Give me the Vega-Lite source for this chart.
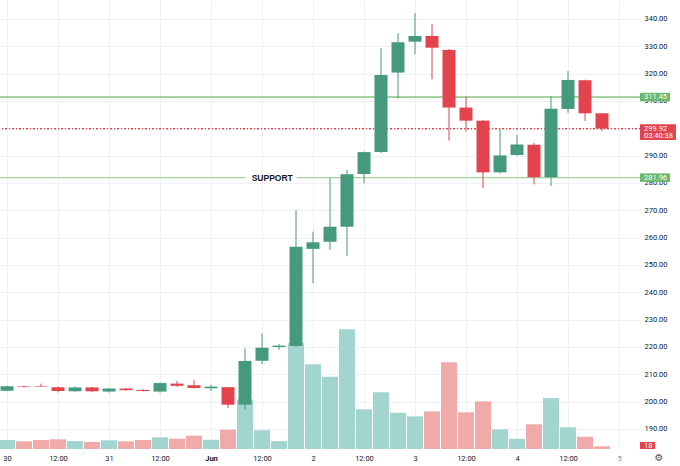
{
  "$schema": "https://vega.github.io/schema/vega-lite/v6.json",
  "width": 640,
  "height": 449,
  "autosize": {"type": "none"},
  "padding": {"left": 0, "top": 0, "right": 40, "bottom": 17},
  "background": "white",
  "config": {
    "view": {"stroke": null},
    "scale": {"continuousPadding": 0},
    "axis": {"domain": false, "ticks": false, "labelFont": "Roboto", "labelFontSize": 7.5, "labelColor": "#131722", "gridColor": "#eff0f3", "gridWidth": 1, "labelOverlap": false},
    "text": {"font": "Roboto"}
  },
  "datasets": {
    "candles": [
      {"time": "2024-05-30T00:00:00Z", "open": 204.0, "high": 205.8, "low": 203.8, "close": 205.6, "volume": 60},
      {"time": "2024-05-30T04:00:00Z", "open": 205.6, "high": 205.8, "low": 205.1, "close": 205.4, "volume": 51},
      {"time": "2024-05-30T08:00:00Z", "open": 205.7, "high": 206.6, "low": 205.4, "close": 205.5, "volume": 60},
      {"time": "2024-05-30T12:00:00Z", "open": 205.3, "high": 205.5, "low": 203.4, "close": 203.9, "volume": 65},
      {"time": "2024-05-30T16:00:00Z", "open": 203.8, "high": 205.5, "low": 203.6, "close": 205.2, "volume": 53},
      {"time": "2024-05-30T20:00:00Z", "open": 205.2, "high": 205.4, "low": 203.5, "close": 203.8, "volume": 47},
      {"time": "2024-05-31T00:00:00Z", "open": 203.7, "high": 205.0, "low": 203.3, "close": 204.8, "volume": 58},
      {"time": "2024-05-31T04:00:00Z", "open": 204.8, "high": 205.0, "low": 204.0, "close": 204.2, "volume": 51},
      {"time": "2024-05-31T08:00:00Z", "open": 204.3, "high": 204.6, "low": 203.7, "close": 203.9, "volume": 60},
      {"time": "2024-05-31T12:00:00Z", "open": 203.7, "high": 207.0, "low": 203.3, "close": 206.8, "volume": 78},
      {"time": "2024-05-31T16:00:00Z", "open": 206.6, "high": 207.5, "low": 205.4, "close": 205.8, "volume": 69},
      {"time": "2024-05-31T20:00:00Z", "open": 206.0, "high": 207.9, "low": 204.8, "close": 205.0, "volume": 89},
      {"time": "2024-06-01T00:00:00Z", "open": 204.9, "high": 206.2, "low": 203.9, "close": 205.5, "volume": 62},
      {"time": "2024-06-01T04:00:00Z", "open": 205.3, "high": 205.4, "low": 197.6, "close": 198.9, "volume": 129},
      {"time": "2024-06-01T08:00:00Z", "open": 198.9, "high": 219.5, "low": 197.0, "close": 214.9, "volume": 331},
      {"time": "2024-06-01T12:00:00Z", "open": 215.0, "high": 225.0, "low": 213.7, "close": 219.7, "volume": 125},
      {"time": "2024-06-01T16:00:00Z", "open": 220.0, "high": 221.1, "low": 219.0, "close": 220.5, "volume": 53},
      {"time": "2024-06-01T20:00:00Z", "open": 220.4, "high": 270.1, "low": 220.0, "close": 256.7, "volume": 707},
      {"time": "2024-06-02T00:00:00Z", "open": 255.9, "high": 262.2, "low": 243.3, "close": 258.3, "volume": 567},
      {"time": "2024-06-02T04:00:00Z", "open": 258.5, "high": 281.9, "low": 255.5, "close": 264.0, "volume": 482},
      {"time": "2024-06-02T08:00:00Z", "open": 264.0, "high": 284.8, "low": 253.4, "close": 283.2, "volume": 800},
      {"time": "2024-06-02T12:00:00Z", "open": 283.3, "high": 291.5, "low": 279.9, "close": 291.3, "volume": 265},
      {"time": "2024-06-02T16:00:00Z", "open": 291.3, "high": 329.3, "low": 291.0, "close": 319.5, "volume": 380},
      {"time": "2024-06-02T20:00:00Z", "open": 320.4, "high": 334.8, "low": 311.0, "close": 331.5, "volume": 242},
      {"time": "2024-06-03T00:00:00Z", "open": 331.7, "high": 342.1, "low": 327.1, "close": 333.8, "volume": 218},
      {"time": "2024-06-03T04:00:00Z", "open": 333.8, "high": 338.2, "low": 317.9, "close": 329.5, "volume": 251},
      {"time": "2024-06-03T08:00:00Z", "open": 328.7, "high": 329.0, "low": 295.5, "close": 307.6, "volume": 580},
      {"time": "2024-06-03T12:00:00Z", "open": 307.6, "high": 311.6, "low": 298.8, "close": 302.8, "volume": 245},
      {"time": "2024-06-03T16:00:00Z", "open": 302.8, "high": 303.0, "low": 278.1, "close": 283.9, "volume": 318},
      {"time": "2024-06-03T20:00:00Z", "open": 283.9, "high": 300.0, "low": 283.5, "close": 290.1, "volume": 131},
      {"time": "2024-06-04T00:00:00Z", "open": 290.2, "high": 297.6, "low": 290.0, "close": 294.1, "volume": 69},
      {"time": "2024-06-04T04:00:00Z", "open": 294.0, "high": 294.6, "low": 279.5, "close": 282.1, "volume": 165},
      {"time": "2024-06-04T08:00:00Z", "open": 282.1, "high": 311.8, "low": 278.9, "close": 307.2, "volume": 340},
      {"time": "2024-06-04T12:00:00Z", "open": 307.1, "high": 321.0, "low": 305.7, "close": 317.7, "volume": 145},
      {"time": "2024-06-04T16:00:00Z", "open": 317.6, "high": 317.8, "low": 302.7, "close": 305.5, "volume": 82},
      {"time": "2024-06-04T20:00:00Z", "open": 305.5, "high": 305.6, "low": 299.1, "close": 299.92, "volume": 18}
    ],
    "supportSegments": [
      {"price": 281.96, "from": "2024-05-29T22:21:11Z", "to": "2024-06-01T08:00:00Z"},
      {"price": 281.96, "from": "2024-06-01T20:10:00Z", "to": "2024-06-05T04:56:24Z"}
    ],
    "supportLabel": [
      {"label": "SUPPORT", "price": 281.96, "at": "2024-06-01T14:24:00Z"}
    ],
    "levelTags": [
      {"text": "311.45", "price": 311.45, "lo": 309.9, "hi": 313.0, "from": "2024-06-05T04:56:24Z", "to": "2024-06-05T12:00:00Z", "at": "2024-06-05T05:53:00Z"},
      {"text": "281.96", "price": 281.96, "lo": 280.41, "hi": 283.51, "from": "2024-06-05T04:56:24Z", "to": "2024-06-05T12:00:00Z", "at": "2024-06-05T05:53:00Z"}
    ],
    "priceTagBox": [
      {"lo": 295.73, "hi": 301.47, "from": "2024-06-05T04:56:24Z", "to": "2024-06-05T13:24:00Z"}
    ],
    "priceTagText": [
      {"text": "299.92", "price": 299.92, "at": "2024-06-05T05:53:00Z"},
      {"text": "03:40:38", "price": 297.2, "at": "2024-06-05T05:53:00Z"}
    ],
    "volumeTag": [
      {"text": "18", "lo": 0, "hi": 47, "mid": 21, "from": "2024-06-05T04:56:24Z", "to": "2024-06-05T08:30:00Z", "at": "2024-06-05T05:53:00Z"}
    ],
    "settingsIcon": [
      {"icon": "⚙", "at": "2024-06-05T09:25:00Z", "level": -60}
    ]
  },
  "layer": [
    {
      "layer": [
        {
          "data": {"name": "candles"},
          "mark": {"type": "bar", "width": 16},
          "encoding": {
            "x": {
              "field": "time", "type": "temporal", "title": null,
              "scale": {"type": "utc", "padding": 0, "domain": [{"year": 2024, "month": 5, "date": 29, "hours": 22, "minutes": 21, "seconds": 11, "utc": true}, {"year": 2024, "month": 6, "date": 5, "hours": 4, "minutes": 56, "seconds": 24, "utc": true}]},
              "axis": {
                "values": [
                  {"year": 2024, "month": 5, "date": 30, "hours": 0, "utc": true},
                  {"year": 2024, "month": 5, "date": 30, "hours": 12, "utc": true},
                  {"year": 2024, "month": 5, "date": 31, "hours": 0, "utc": true},
                  {"year": 2024, "month": 5, "date": 31, "hours": 12, "utc": true},
                  {"year": 2024, "month": 6, "date": 1, "hours": 0, "utc": true},
                  {"year": 2024, "month": 6, "date": 1, "hours": 12, "utc": true},
                  {"year": 2024, "month": 6, "date": 2, "hours": 0, "utc": true},
                  {"year": 2024, "month": 6, "date": 2, "hours": 12, "utc": true},
                  {"year": 2024, "month": 6, "date": 3, "hours": 0, "utc": true},
                  {"year": 2024, "month": 6, "date": 3, "hours": 12, "utc": true},
                  {"year": 2024, "month": 6, "date": 4, "hours": 0, "utc": true},
                  {"year": 2024, "month": 6, "date": 4, "hours": 12, "utc": true},
                  {"year": 2024, "month": 6, "date": 5, "hours": 0, "utc": true}
                ],
                "tickCount": 30,
                "labelExpr": "utchours(datum.value) == 12 ? '12:00' : (utcdate(datum.value) == 1 ? utcFormat(datum.value, '%b') : utcFormat(datum.value, '%-d'))",
                "labelFontWeight": {"condition": {"test": "utcdate(datum.value) == 1 && utchours(datum.value) == 0", "value": "bold"}, "value": "normal"},
                "labelColor": {"condition": {"test": "utcdate(datum.value) == 5", "value": "#8a8e99"}, "value": "#131722"},
                "grid": true,
                "labelPadding": 5,
                "labelFlush": false,
                "labelOverlap": false
              }
            },
            "y": {"field": "volume", "type": "quantitative", "scale": {"domain": [0, 3000], "nice": false, "zero": true, "padding": 0}, "axis": null},
            "color": {"condition": {"test": "datum.close >= datum.open", "value": "#a3d5d0"}, "value": "#efaaa9"}
          }
        },
        {
          "data": {"name": "volumeTag"},
          "mark": {"type": "rect", "color": "#e2434c"},
          "encoding": {
            "x": {"field": "from", "type": "temporal", "title": null},
            "x2": {"field": "to"},
            "y": {"field": "lo", "type": "quantitative", "scale": {"domain": [0, 3000], "nice": false, "zero": true, "padding": 0}, "axis": null},
            "y2": {"field": "hi"}
          }
        },
        {
          "data": {"name": "volumeTag"},
          "mark": {"type": "text", "color": "white", "fontSize": 7.5, "align": "left", "baseline": "middle"},
          "encoding": {
            "x": {"field": "at", "type": "temporal", "title": null},
            "y": {"field": "mid", "type": "quantitative", "scale": {"domain": [0, 3000], "nice": false, "zero": true, "padding": 0}, "axis": null},
            "text": {"field": "text"}
          }
        },
        {
          "data": {"name": "settingsIcon"},
          "mark": {"type": "text", "color": "#50535e", "fontSize": 10, "align": "center", "baseline": "middle", "font": "DejaVu Sans"},
          "encoding": {
            "x": {"field": "at", "type": "temporal", "title": null},
            "y": {"field": "level", "type": "quantitative", "scale": {"domain": [0, 3000], "nice": false, "zero": true, "padding": 0}, "axis": null},
            "text": {"field": "icon"}
          }
        }
      ]
    },
    {
      "layer": [
        {
          "data": {"name": "candles"},
          "mark": {"type": "rule", "color": "#a3d4a0", "strokeWidth": 1.1},
          "encoding": {
            "y": {
              "datum": 311.45, "type": "quantitative", "title": null,
              "scale": {"domain": [182.68, 346.95], "nice": false, "zero": false, "padding": 0},
              "axis": {"orient": "right", "values": [190, 200, 210, 220, 230, 240, 250, 260, 270, 280, 290, 300, 310, 320, 330, 340], "tickCount": 30, "format": ".2f", "grid": true, "labelPadding": 4, "labelBaseline": "middle", "labelOverlap": false}
            }
          }
        },
        {
          "data": {"name": "supportSegments"},
          "mark": {"type": "rule", "color": "#a3d4a0", "strokeWidth": 1.1},
          "encoding": {
            "x": {"field": "from", "type": "temporal", "title": null},
            "x2": {"field": "to"},
            "y": {"field": "price", "type": "quantitative", "title": null}
          }
        },
        {
          "data": {"name": "candles"},
          "mark": {"type": "rule", "color": "#e2434c", "strokeWidth": 0.8, "strokeDash": [1, 2.5], "opacity": 0.4},
          "encoding": {
            "y": {"datum": 299.92, "type": "quantitative", "title": null}
          }
        },
        {
          "data": {"name": "supportLabel"},
          "mark": {"type": "text", "fontWeight": "bold", "fontSize": 8.5, "color": "#131722", "align": "center", "baseline": "middle", "font": "Liberation Sans"},
          "encoding": {
            "x": {"field": "at", "type": "temporal", "title": null},
            "y": {"field": "price", "type": "quantitative", "title": null},
            "text": {"field": "label"}
          }
        },
        {
          "data": {"name": "candles"},
          "mark": {"type": "rule", "strokeWidth": 1},
          "encoding": {
            "x": {"field": "time", "type": "temporal", "title": null},
            "y": {"field": "low", "type": "quantitative", "title": null},
            "y2": {"field": "high"},
            "color": {"condition": {"test": "datum.close >= datum.open", "value": "#459a7e"}, "value": "#e2434c"}
          }
        },
        {
          "data": {"name": "candles"},
          "mark": {"type": "bar", "width": 13},
          "encoding": {
            "x": {"field": "time", "type": "temporal", "title": null},
            "y": {"field": "open", "type": "quantitative", "title": null},
            "y2": {"field": "close"},
            "color": {"condition": {"test": "datum.close >= datum.open", "value": "#459a7e"}, "value": "#e2434c"}
          }
        },
        {
          "data": {"name": "levelTags"},
          "mark": {"type": "rect", "color": "#6bb86a"},
          "encoding": {
            "x": {"field": "from", "type": "temporal", "title": null},
            "x2": {"field": "to"},
            "y": {"field": "lo", "type": "quantitative", "title": null},
            "y2": {"field": "hi"}
          }
        },
        {
          "data": {"name": "levelTags"},
          "mark": {"type": "text", "color": "white", "fontSize": 7.5, "align": "left", "baseline": "middle"},
          "encoding": {
            "x": {"field": "at", "type": "temporal", "title": null},
            "y": {"field": "price", "type": "quantitative", "title": null},
            "text": {"field": "text"}
          }
        },
        {
          "data": {"name": "priceTagBox"},
          "mark": {"type": "rect", "color": "#e2434c"},
          "encoding": {
            "x": {"field": "from", "type": "temporal", "title": null},
            "x2": {"field": "to"},
            "y": {"field": "lo", "type": "quantitative", "title": null},
            "y2": {"field": "hi"}
          }
        },
        {
          "data": {"name": "priceTagText"},
          "mark": {"type": "text", "color": "white", "fontSize": 7.5, "align": "left", "baseline": "middle"},
          "encoding": {
            "x": {"field": "at", "type": "temporal", "title": null},
            "y": {"field": "price", "type": "quantitative", "title": null},
            "text": {"field": "text"}
          }
        }
      ]
    }
  ],
  "resolve": {"scale": {"y": "independent"}}
}
